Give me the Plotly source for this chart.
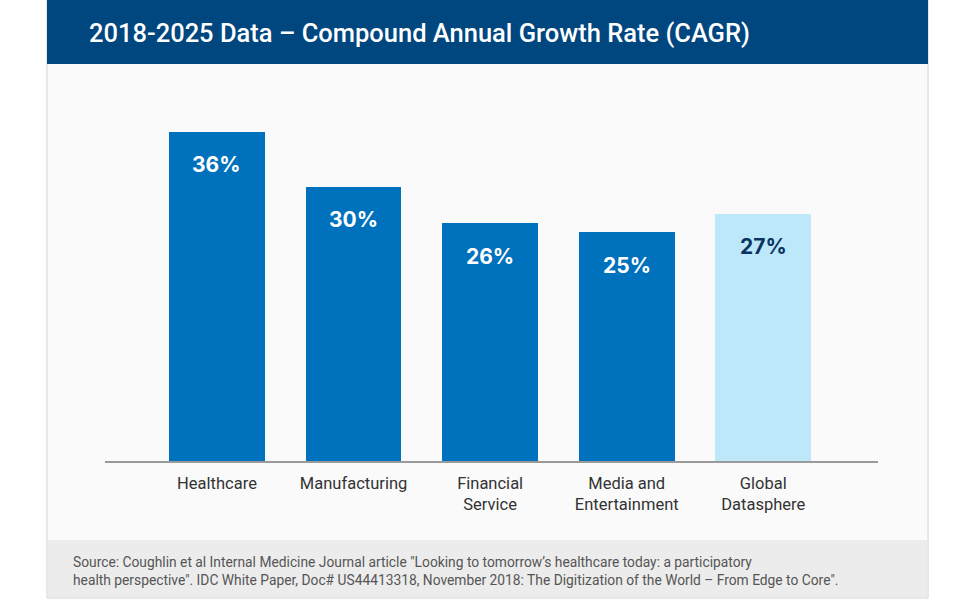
import plotly.graph_objects as go

categories = ["Healthcare", "Manufacturing", "Financial<br>Service", "Media and<br>Entertainment", "Global<br>Datasphere"]
cagr_values = [36, 30, 26, 25, 27]
bar_colors = ["#0071BC", "#0071BC", "#0071BC", "#0071BC", "#BCE8FA"]
label_colors = ["#FFFFFF", "#FFFFFF", "#FFFFFF", "#FFFFFF", "#0B3463"]
title_text = "2018-2025 Data \u2013 Compound Annual Growth Rate (CAGR)"
source_text = ("Source: Coughlin et al Internal Medicine Journal article \"Looking to tomorrow\u2019s healthcare today: a participatory<br>"
               "health perspective\". IDC White Paper, Doc# US44413318, November 2018: The Digitization of the World \u2013 From Edge to Core\".")

W, H = 975, 600
def px(x): return x / W
def py(y): return 1 - y / H

x_idx = list(range(len(categories)))

fig = go.Figure()
fig.add_trace(go.Bar(
    x=x_idx, y=cagr_values, width=0.70,
    marker=dict(color=bar_colors, line=dict(width=0)),
    hoverinfo="skip",
))

annotations = []
for i, (v, c) in enumerate(zip(cagr_values, label_colors)):
    annotations.append(dict(x=i, y=v, xref="x", yref="y", text=f"<b>{v}%</b>",
                            showarrow=False, yshift=-33, yanchor="middle",
                            font=dict(family="Inter, Roboto, sans-serif", size=21, color=c)))

annotations.append(dict(x=px(87), y=py(33), xref="paper", yref="paper", text=title_text,
                        showarrow=False, xanchor="left", yanchor="middle",
                        font=dict(family="Roboto", size=25.5, color="#FFFFFF", weight=500)))
annotations.append(dict(x=px(71), y=py(571), xref="paper", yref="paper", text=source_text,
                        showarrow=False, xanchor="left", yanchor="middle", align="left",
                        font=dict(family="Roboto", size=13.8, color="#555555")))

shapes = [
    dict(type="rect", xref="paper", yref="paper", x0=px(47), x1=px(928), y0=py(598), y1=py(0),
         fillcolor="#FFFFFF", line=dict(color="#D0D0D0", width=1), layer="below"),
    dict(type="rect", xref="paper", yref="paper", x0=px(48), x1=px(927), y0=py(540), y1=py(64),
         fillcolor="#FAFAFA", line=dict(width=0), layer="below"),
    dict(type="rect", xref="paper", yref="paper", x0=px(48), x1=px(927), y0=py(597), y1=py(540),
         fillcolor="#ECECEC", line=dict(width=0), layer="below"),
    dict(type="rect", xref="paper", yref="paper", x0=px(47), x1=px(928), y0=py(64), y1=py(0),
         fillcolor="#00467F", line=dict(width=0), layer="below"),
]

ytop_px, ybase_px = 100, 461
scale = 9.15
fig.update_layout(
    width=W, height=H,
    margin=dict(l=0, r=0, t=0, b=0),
    paper_bgcolor="#FFFFFF", plot_bgcolor="rgba(0,0,0,0)",
    showlegend=False,
    annotations=annotations, shapes=shapes,
    xaxis=dict(domain=[px(105), px(878)], range=[-0.82, 4.84],
               tickmode="array", tickvals=x_idx, ticktext=categories,
               showgrid=False, zeroline=False, showline=True, linecolor="#9A9A9A", linewidth=1.5,
               ticks="", ticklabelstandoff=6,
               tickfont=dict(family="Roboto", size=16.5, color="#333333"), fixedrange=True),
    yaxis=dict(domain=[py(ybase_px), py(ytop_px)], range=[0, (ybase_px - ytop_px) / scale],
               visible=False, fixedrange=True),
    bargap=0,
)

fig.write_html("out.html", config={"displayModeBar": False},
               post_script="document.body.style.margin='0px';document.body.style.overflow='hidden';")
